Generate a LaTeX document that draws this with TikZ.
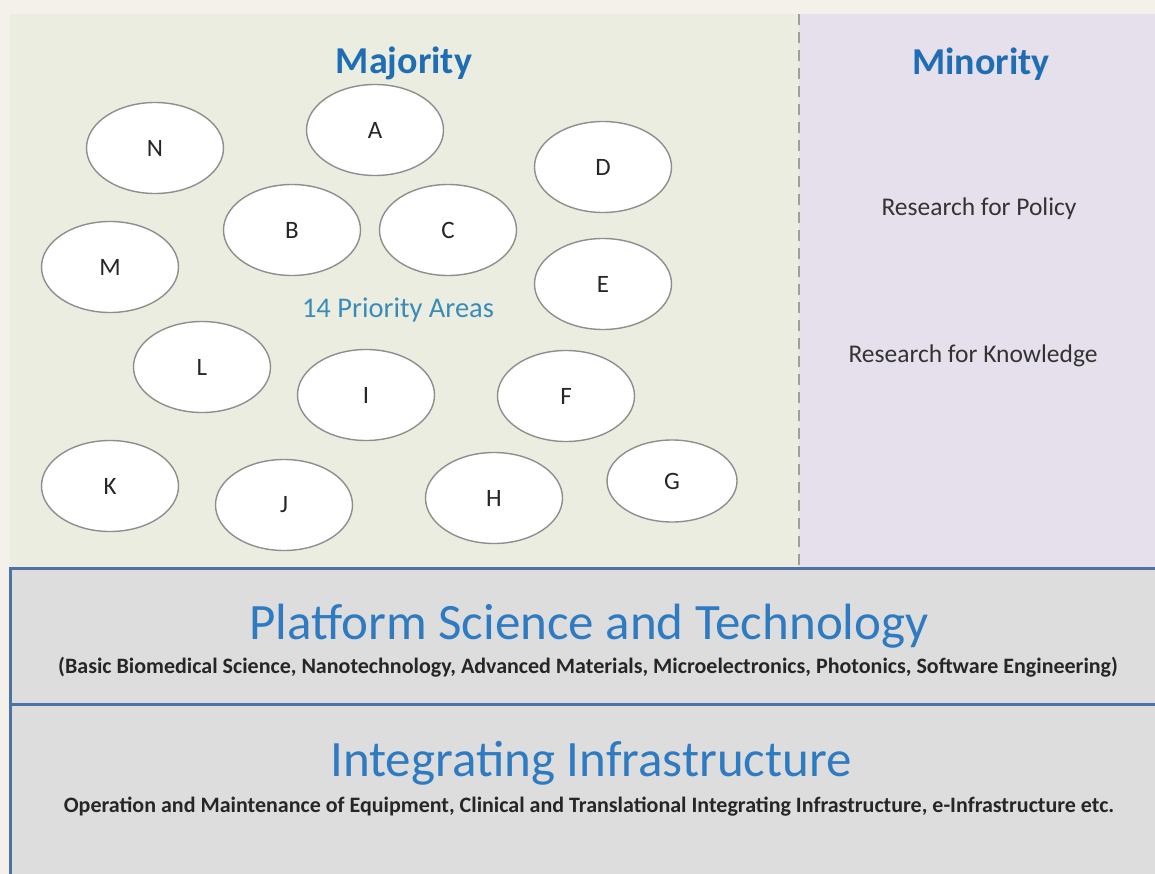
\documentclass[tikz,border=0pt]{standalone}
\usepackage{fontspec}
\setmainfont{Carlito}
\usetikzlibrary{shapes.geometric}
\definecolor{outerbg}{HTML}{F4F1EA}
\definecolor{greenbg}{HTML}{EBEDE0}
\definecolor{purplebg}{HTML}{E6E0EC}
\definecolor{graybg}{HTML}{DDDDDD}
\definecolor{rulecol}{HTML}{4C72A6}
\definecolor{dashcol}{HTML}{A39E96}
\definecolor{headblue}{HTML}{1F6EB4}
\definecolor{titleblue}{HTML}{2E7BC2}
\definecolor{tealblue}{HTML}{3A8CB8}
\definecolor{bodytext}{HTML}{333333}
\definecolor{ellline}{HTML}{8E8E8E}
\tikzset{
  area/.style={ellipse, draw=ellline, line width=1.4pt, fill=white, inner sep=0pt,
    minimum width=137, minimum height=91, text=black!85,
    font=\fontsize{25}{29}\selectfont},
  head/.style={anchor=base, text=headblue, font=\bfseries\fontsize{38}{44}\selectfont},
  side/.style={anchor=base, text=bodytext, font=\fontsize{25.5}{30}\selectfont},
  bigtitle/.style={anchor=base, text=titleblue, font=\fontsize{51}{60}\selectfont},
  subline/.style={anchor=base, text=black!85, font=\bfseries\fontsize{22}{26}\selectfont},
  rule/.style={draw=rulecol, line width=3pt},
}
\begin{document}
\begin{tikzpicture}[x=1pt,y=-1pt]
\useasboundingbox (0,0) rectangle (1155,874);
\fill[outerbg] (0,0) rectangle (1155,874);
\fill[greenbg] (10,14) rectangle (799,568);
\fill[purplebg] (799,14) rectangle (1155,568);
\fill[graybg] (10,568) rectangle (1155,874);
\draw[dashcol, line width=2pt, dash pattern=on 11pt off 7pt] (799,14) -- (799,566);
\draw[rule] (1160,568) -- (10,568) -- (10,880);
\draw[rule] (10,704) -- (1160,704);

\node[head] (maj) at (404,74) {Majority};
\node[head] (min) at (981,75) {Minority};

\node[area] (N) at (155,148) {N};
\node[area] (A) at (375,130) {A};
\node[area] (D) at (603,167) {D};
\node[area] (B) at (292,230) {B};
\node[area] (C) at (448,230) {C};
\node[area] (M) at (110,267) {M};
\node[area] (E) at (603,284) {E};
\node[area] (L) at (202,367) {L};
\node[area] (I) at (366,395) {I};
\node[area] (F) at (566,396) {F};
\node[area] (K) at (110,486) {K};
\node[area] (J) at (284,505) {J};
\node[area] (H) at (494,498) {H};
\node[area, minimum width=130, minimum height=82] (G) at (672,481) {G};

\node[anchor=base, text=tealblue, font=\fontsize{28.5}{33}\selectfont] (pa) at (398,317) {14 Priority Areas};

\node[side] (rp) at (979,216) {Research for Policy};
\node[side] (rk) at (973,362) {Research for Knowledge};

\node[bigtitle] (pst) at (589,639) {Platform Science and Technology};
\node[subline] (pss) at (588,673) {(Basic Biomedical Science, Nanotechnology, Advanced Materials, Microelectronics, Photonics, Software Engineering)};
\node[bigtitle] (ii) at (591,776) {Integrating Infrastructure};
\node[subline] (iis) at (589,812) {Operation and Maintenance of Equipment, Clinical and Translational Integrating Infrastructure, e-Infrastructure etc.};
\end{tikzpicture}
\end{document}
